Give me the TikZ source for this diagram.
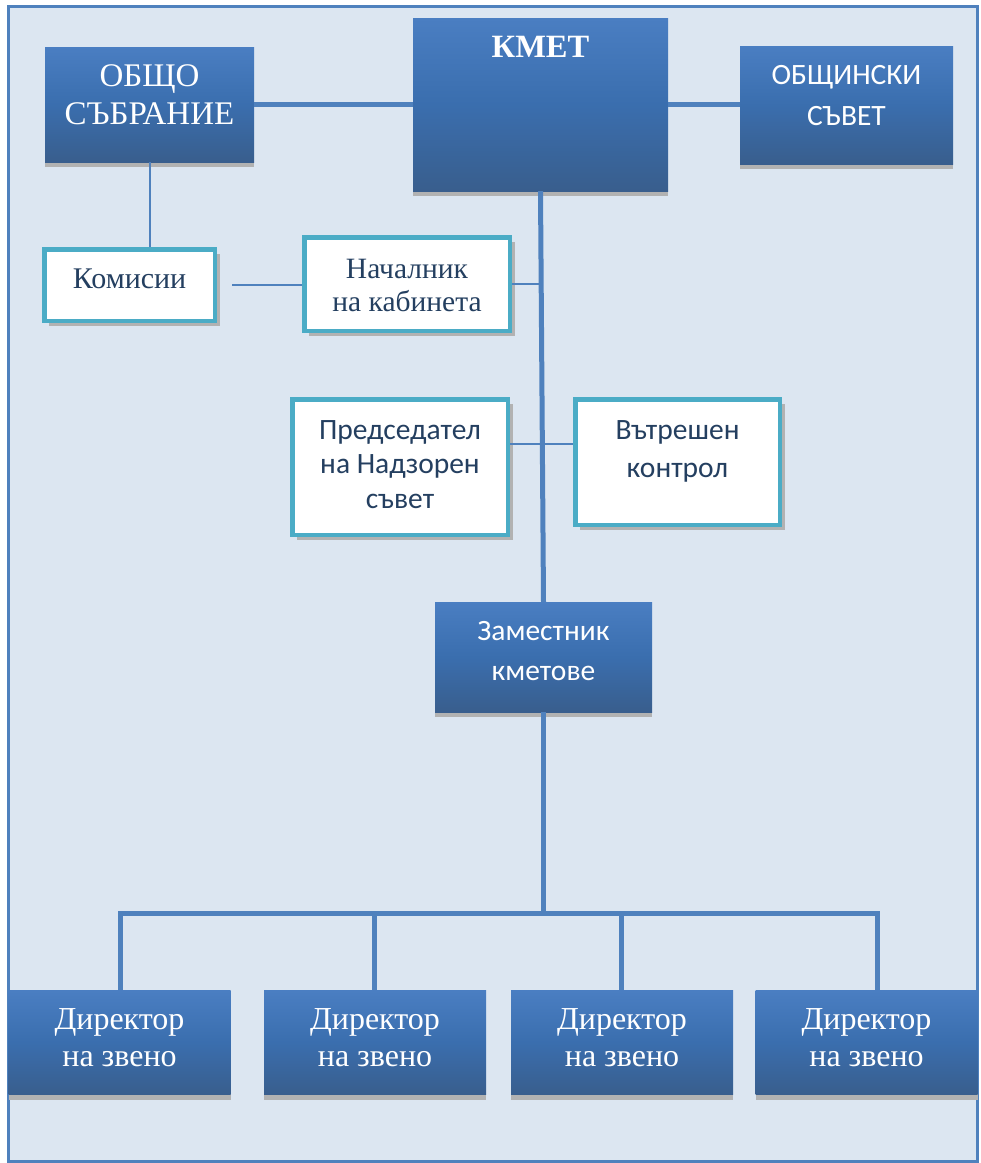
\documentclass[tikz,border=0pt]{standalone}
\usepackage{fontspec}
\setmainfont{Liberation Serif}
\newfontfamily\calibri{Carlito}
\usepackage{tikz}
\usetikzlibrary{positioning,calc,shadows}
\definecolor{fond}{HTML}{DCE6F1}
\definecolor{bleuC}{HTML}{4F81BD}
\definecolor{aqua}{HTML}{4BACC6}
\definecolor{encre}{HTML}{243F60}
\definecolor{hautB}{HTML}{4A7EC2}
\definecolor{milB}{HTML}{3A6EAE}
\definecolor{basB}{HTML}{395E8D}
\tikzset{
  bloc/.style={rectangle, top color=hautB, bottom color=basB, middle color=milB,
               text=white, align=center, inner sep=0pt,
               general shadow={fill=gray!60, shadow yshift=-5pt}},
  cadre/.style={rectangle, draw=aqua, line width=4.5pt, fill=white, text=encre,
                align=center, inner sep=0pt,
                general shadow={fill=gray!60, shadow xshift=5pt, shadow yshift=-5pt}},
  lignes/.style 2 args={text height=#1, text depth=#2},
  lien/.style={draw=bleuC, line width=5pt},
  fin/.style={draw=bleuC, line width=2pt},
}

\begin{document}
\begin{tikzpicture}[x=1pt, y=-1pt]
    \useasboundingbox (0,0) rectangle (981,1163);
    \draw[bleuC, line width=3pt, fill=fond] (8,6) rectangle (977,1161);

    % top row
    \node[bloc, minimum width=209pt, lignes={77pt}{38pt},
          font=\fontsize{33}{37.5}\selectfont] (obshto) at (149.5,104.5) {ОБЩО\\СЪБРАНИЕ};
    \node[bloc, minimum width=255pt, minimum height=173pt,
          label={[white, inner sep=0pt, anchor=north, yshift=-18pt,
                  font=\fontsize{32.5}{36}\bfseries\selectfont]north:КМЕТ}] (kmet) at (540.5,104.5) {};
    \node[bloc, minimum width=213pt, lignes={79pt}{39pt},
          font=\calibri\fontsize{29.5}{41}\selectfont] (obshtinski) at (846.5,105) {ОБЩИНСКИ\\СЪВЕТ};

    % framed boxes
    \node[cadre, minimum width=170.5pt, lignes={39pt}{32.5pt},
          font=\fontsize{30}{33}\selectfont] (komisii) at (129.5,285) {Комисии};
    \node[cadre, minimum width=205.5pt, lignes={74.4pt}{19.1pt},
          font=\fontsize{29.5}{33.4}\selectfont] (nachalnik) at (407,284) {Началник\\на кабинета};
    \node[cadre, minimum width=215.5pt, lignes={109pt}{26.5pt},
          font=\calibri\fontsize{29.5}{34.5}\selectfont] (predsedatel) at (400,467) {Председател\\на Надзорен\\съвет};
    \node[cadre, minimum width=204.5pt, lignes={78.7pt}{46.8pt},
          font=\calibri\fontsize{29.5}{38.7}\selectfont] (vatreshen) at (677.5,462) {Вътрешен\\контрол};

    \node[bloc, minimum width=217pt, lignes={78pt}{32pt},
          font=\calibri\fontsize{29.5}{40}\selectfont] (zamestnik) at (543.5,657) {Заместник\\кметове};

    % directors
    \foreach \i/\x in {1/119.5,2/375,3/622,4/866.5}
      \node[bloc, minimum width=222pt, lignes={76.2pt}{27.8pt},
            font=\fontsize{32}{37}\selectfont] (dir\i) at (\x,1042.5) {Директор\\на звено};
    \foreach \i/\x in {1/120,2/374,3/621,4/877}
      \coordinate (b\i) at (\x,913);

    % connectors
    \draw[lien] (obshto.east) -- (obshto.east -| kmet.west);
    \draw[lien] (kmet.east) -- (kmet.east -| obshtinski.west);
    \draw[fin] (obshto.south) -- (obshto.south |- komisii.north);
    \draw[fin, shorten <=15pt] (komisii.east) -- (komisii.east -| nachalnik.west);
    \draw[lien] (kmet.south) -- (zamestnik.north);
    \draw[fin] (nachalnik.east) -- (nachalnik.east -| kmet.south);
    \draw[fin] ([yshift=23pt]predsedatel.east) -- ([yshift=23pt]predsedatel.east -| vatreshen.west);
    \draw[lien] (zamestnik.south) -- (zamestnik.south |- b1);
    \draw[lien] (b1 |- dir1.north) -- (b1) -- (b4) -- (b4 |- dir4.north);
    \draw[lien] (b2) -- (b2 |- dir2.north);
    \draw[lien] (b3) -- (b3 |- dir3.north);
  \end{tikzpicture}
\end{document}
